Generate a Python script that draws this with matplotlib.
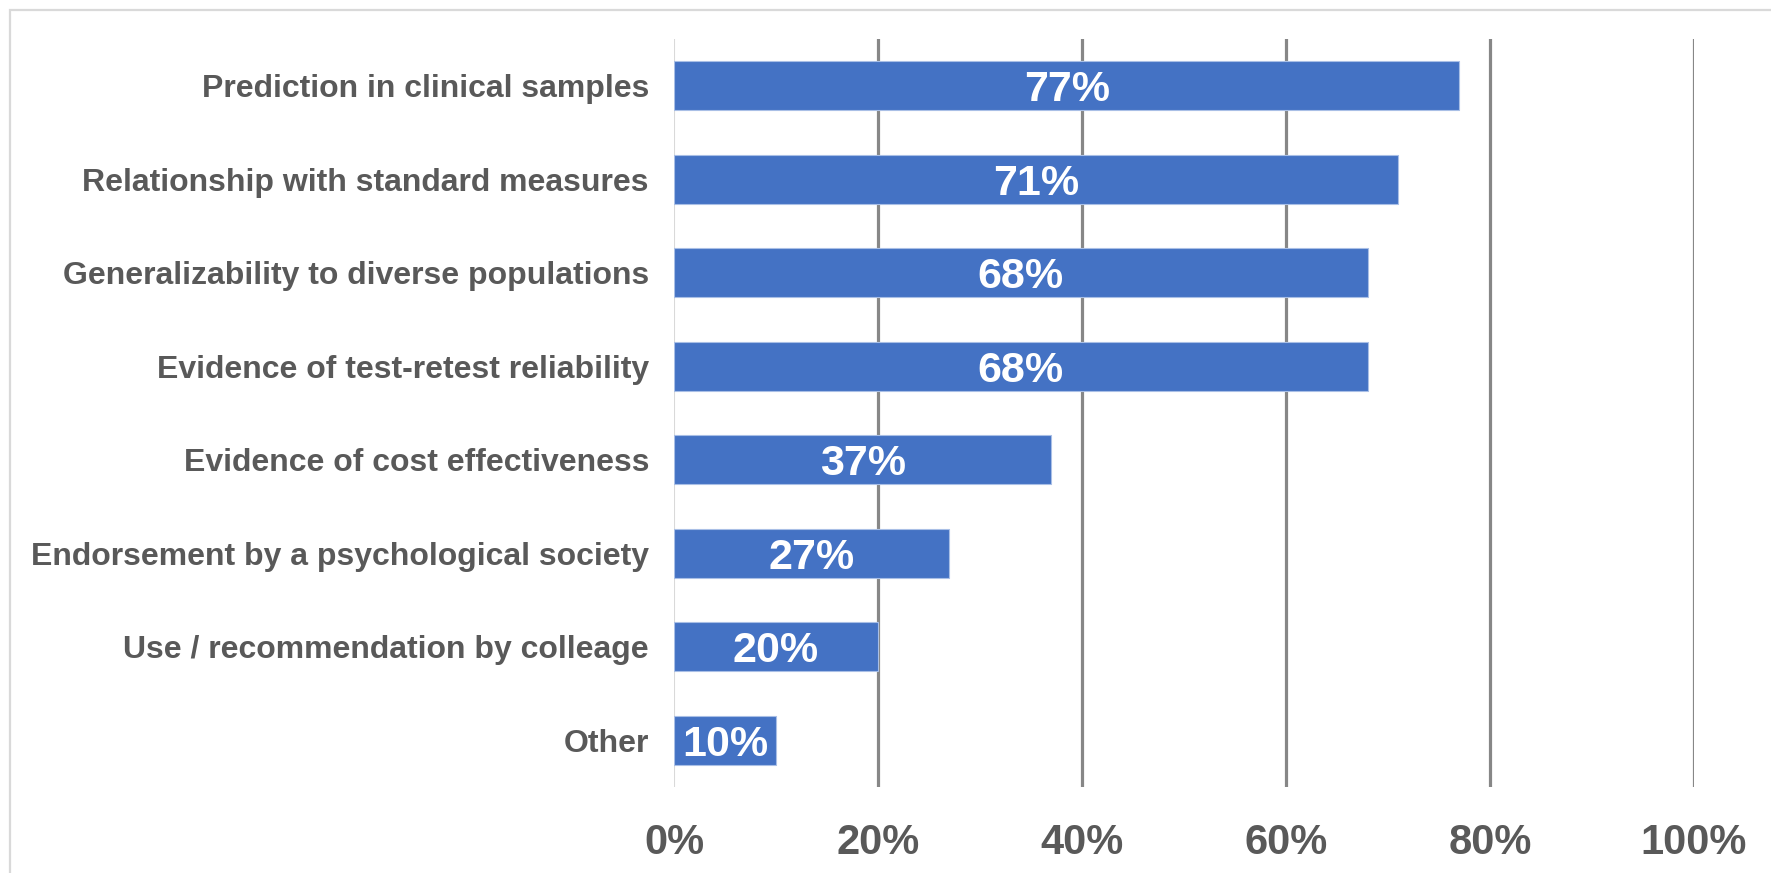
import matplotlib.pyplot as plt
from matplotlib.patches import Rectangle

# survey responses: share of respondents per criterion
criteria = [
    "Prediction in clinical samples",
    "Relationship with standard measures",
    "Generalizability to diverse populations",
    "Evidence of test-retest reliability",
    "Evidence of cost effectiveness",
    "Endorsement by a psychological society",
    "Use / recommendation by colleage",
    "Other",
]
shares = [77, 71, 68, 68, 37, 27, 20, 10]
x_ticks = [0, 20, 40, 60, 80, 100]

bar_color = "#4472C4"
text_gray = "#595959"
grid_gray = "#878787"

plt.rcParams['font.family'] = ['Liberation Sans', 'DejaVu Sans']

W, H = 1771, 873
fig = plt.figure(figsize=(W / 100, H / 100), dpi=100)
ax = fig.add_axes([674 / W, 1 - 787 / H, (1694 - 674) / W, (787 - 39) / H])

# light frame around the chart area (right/bottom edges run off the image)
fig.patches.append(Rectangle((10 / W, -0.1), 1.2, 1 - 10 / H + 0.1,
                             transform=fig.transFigure, fill=False,
                             edgecolor="#d9d9d9", linewidth=1.6))

pos = list(range(len(criteria)))
bars = ax.barh(pos, shares, height=0.52, color=bar_color,
               edgecolor="#a9bfe6", linewidth=0.8, zorder=3)

for rect, v in zip(bars, shares):
    ax.text(v / 2, rect.get_y() + rect.get_height() / 2, f"{v}%",
            ha="center", va="center_baseline", color="white",
            fontsize=31, fontweight="bold", zorder=4)

ax.set_xlim(0, 100)
ax.set_ylim(len(criteria) - 0.5, -0.5)
ax.set_xticks(x_ticks)
ax.set_xticklabels([f"{t}%" for t in x_ticks])
ax.set_yticks(pos)
ax.set_yticklabels(criteria)

for t in x_ticks[1:]:
    ax.axvline(t, color=grid_gray, linewidth=2.3, zorder=1)
ax.axvline(0, color="#d9d9d9", linewidth=1.5, zorder=2)

for s in ax.spines.values():
    s.set_visible(False)
ax.tick_params(axis="both", length=0)
ax.tick_params(axis="x", labelsize=30, labelcolor=text_gray, pad=26)
ax.tick_params(axis="y", labelsize=23, labelcolor=text_gray, pad=18)
for lab in ax.get_xticklabels() + ax.get_yticklabels():
    lab.set_fontweight("bold")

fig.savefig("out.png", dpi=100, facecolor="white")
